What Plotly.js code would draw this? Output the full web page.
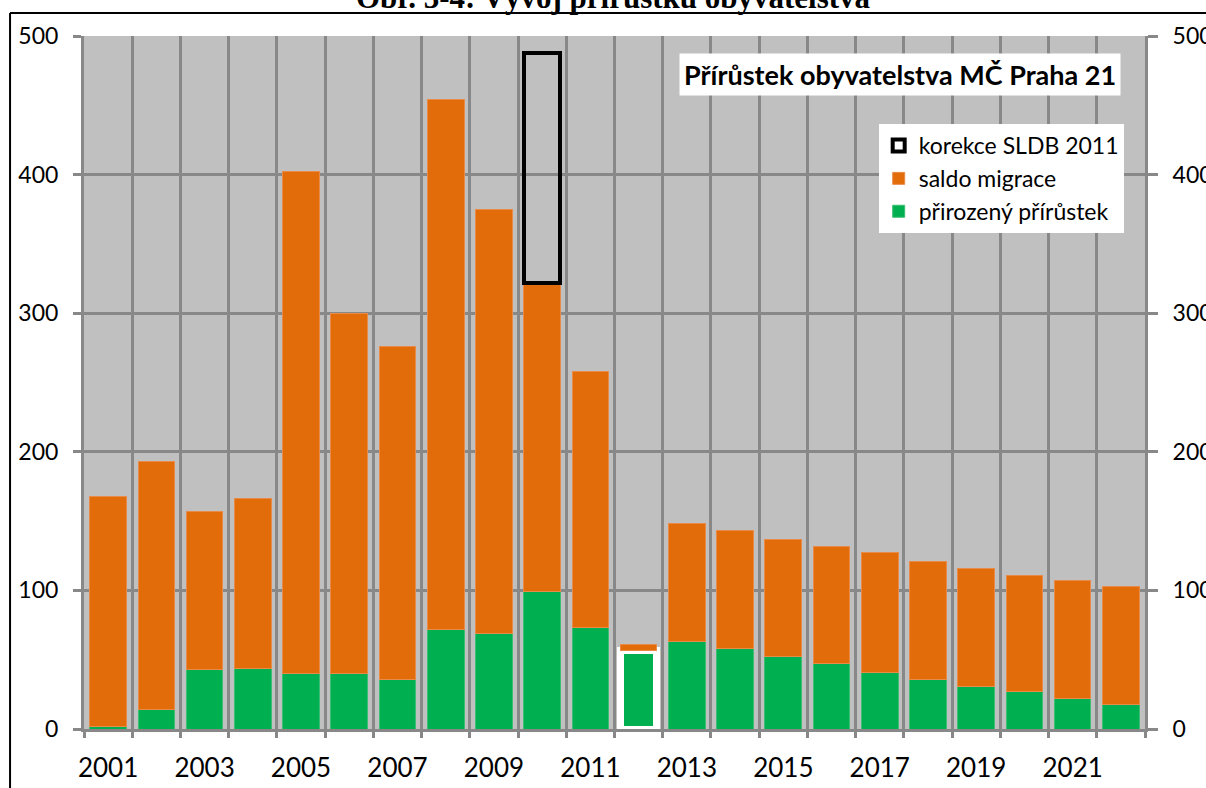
<!DOCTYPE html>
<html>
<head>
<meta charset="utf-8">
<script src="https://cdn.plot.ly/plotly-3.0.1.min.js"></script>
<style>html,body{margin:0;padding:0;background:#fff;}#chart{width:1206px;height:788px;}</style>
</head>
<body>
<div id="chart"></div>
<script>
// ---- data ----
const years = [2001,2002,2003,2004,2005,2006,2007,2008,2009,2010,2011,2012,2013,2014,2015,2016,2017,2018,2019,2020,2021,2022];
const prirozenyPrirustek = [2,14,43,44,40,40,36,72,69,99,73,57,63,58,52,47,41,36,31,27,22,18];
const saldoMigrace = [166,179,114,122,362,260,240,382,306,223,185,4,85,85,85,85,86,85,85,84,85,85];
const korekceSLDB = [null,null,null,null,null,null,null,null,null,166,null,null,null,null,null,null,null,null,null,null,null,null];
const xTickYears = [2001,2003,2005,2007,2009,2011,2013,2015,2017,2019,2021];
const highlightYear = 2012;

const chartTitle = 'Obr. 3-4: Vývoj přírůstku obyvatelstva';
const innerTitle = 'Přírůstek obyvatelstva MČ Praha 21';
const names = ['přirozený přírůstek', 'saldo migrace', 'korekce SLDB 2011'];

const greenLineW = years.map(y => y === highlightYear ? 7 : 1);
const greenLineC = years.map(y => y === highlightYear ? '#FFFFFF' : '#3DBE74');

const traces = [
  {type:'bar', name:names[0], x:years, y:prirozenyPrirustek,
   marker:{color:'#00B050', line:{color:greenLineC, width:greenLineW}}, hoverinfo:'x+y+name'},
  {type:'bar', name:names[1], x:years, y:saldoMigrace,
   marker:{color:'#E36C0A', line:{color:'#E88A48', width:1}}, hoverinfo:'x+y+name'},
  {type:'bar', name:names[2], x:years, y:korekceSLDB,
   marker:{color:'rgba(0,0,0,0)', line:{color:'#000000', width:4}}, hoverinfo:'x+y+name'},
  {type:'scatter', mode:'markers', x:[years[0]], y:[0], yaxis:'y2',
   marker:{opacity:0}, showlegend:false, hoverinfo:'skip'}
];

const grid = '#888888';
const tickFont = {family:'Lato', size:23, color:'#000'};
const xTickFont = {family:'Lato', size:26, color:'#000'};

const layout = {
  width:1206, height:788,
  margin:{l:84, r:60.5, t:36, b:58.7, pad:0},
  paper_bgcolor:'#FFFFFF', plot_bgcolor:'#C0C0C0',
  barmode:'stack', bargap:0.24,
  showlegend:true,
  legend:{x:0.749, y:0.873, xanchor:'left', yanchor:'top', bgcolor:'#FFFFFF',
          font:{family:'Lato', size:23, color:'#000'}, traceorder:'reversed',
          borderwidth:0},
  xaxis:{type:'linear', range:[2000.5, 2022.5], tickmode:'array', tickvals:xTickYears,
         ticktext:xTickYears.map(String), ticks:'', showgrid:false, zeroline:false,
         showline:true, linecolor:grid, linewidth:3, tickfont:xTickFont, ticklabelstandoff:14,
         minor:{tickmode:'linear', tick0:2000.5, dtick:1, showgrid:true, gridcolor:grid,
                gridwidth:2.5, ticks:'outside', ticklen:6, tickcolor:grid, tickwidth:2.5},
         fixedrange:true},
  yaxis:{range:[0,500], dtick:100, tick0:0, showgrid:true, gridcolor:grid, gridwidth:2.5,
         zeroline:false, showline:true, linecolor:grid, linewidth:3, ticks:'outside',
         ticklen:8, tickwidth:2.5, tickcolor:grid, tickfont:tickFont, ticklabelstandoff:10,
         fixedrange:true},
  yaxis2:{range:[0,500], dtick:100, tick0:0, overlaying:'y', side:'right', showgrid:false,
          zeroline:false, showline:true, linecolor:grid, linewidth:3, ticks:'outside',
          ticklen:10, tickwidth:2.5, tickcolor:grid, tickfont:tickFont, ticklabelstandoff:10,
          fixedrange:true},
  annotations:[
    {text:'<b>'+chartTitle+'</b>', xref:'paper', yref:'paper', x:0.4988, y:1.056,
     xanchor:'center', yanchor:'middle', showarrow:false,
     font:{family:'Liberation Serif', size:31, color:'#000'}},
    {text:'<b>'+innerTitle+'</b>', xref:'paper', yref:'paper', x:0.7692, y:0.944,
     xanchor:'center', yanchor:'middle', showarrow:false, bgcolor:'#FFFFFF', borderpad:4,
     font:{family:'Lato', size:27, color:'#000'}}
  ],
  shapes:[
    {type:'line', xref:'paper', yref:'paper', x0:-0.0697, x1:1.2, y0:1.0332, y1:1.0332,
     line:{color:'#000', width:2}},
    {type:'line', xref:'paper', yref:'paper', x0:-0.0697, x1:-0.0697, y0:1.0332, y1:-0.2,
     line:{color:'#000', width:2}}
  ]
};

Plotly.newPlot('chart', traces, layout, {displayModeBar:false, staticPlot:false});
</script>
</body>
</html>
